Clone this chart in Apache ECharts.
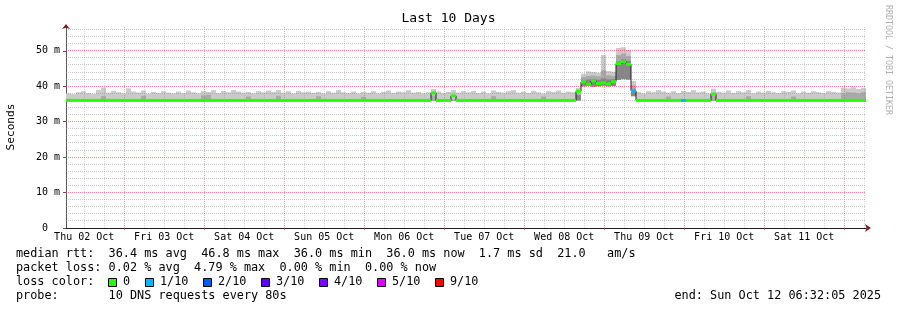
<!DOCTYPE html>
<html><head><meta charset="utf-8">
<script src="https://cdn.jsdelivr.net/npm/echarts@6/dist/echarts.min.js"></script>
<style>html,body{margin:0;padding:0;background:#fff}#c{width:897px;height:310px}</style>
</head><body><div id="c"></div>
<script>
// time axis in hours since Thu 02 Oct 00:00
const START_HOUR = 6 + 32/60 + 5/3600;
const SPAN_HOURS = 240;
const STEP_HOURS = 1.5;
const Y_MAX = 57;
const dayLabels = ['Thu 02 Oct','Fri 03 Oct','Sat 04 Oct','Sun 05 Oct','Mon 06 Oct','Tue 07 Oct','Wed 08 Oct','Thu 09 Oct','Fri 10 Oct','Sat 11 Oct'];
const dayLabelHours = [12,36,60,84,108,132,156,180,204,228];
const midnightHours = [24,48,72,96,120,144,168,192,216,240];
const minorHours = [12,18,30,36,42,54,60,66,78,84,90,102,108,114,126,132,138,150,156,162,174,180,186,198,204,210,222,228,234,246];
const yMajor = [0,10,20,30,40,50];
const yMinor = [2,4,6,8,12,14,16,18,22,24,26,28,32,34,36,38,42,44,46,48,52,54,56];

const median = [
 36.0,36.0,36.0,36.0,36.0,36.0,36.0,36.0,36.0,36.0,
 36.0,36.0,36.0,36.0,36.0,36.0,36.0,36.0,36.0,36.0,
 36.0,36.0,36.0,36.0,36.0,36.0,36.0,36.0,36.0,36.0,
 36.0,36.0,36.0,36.0,36.0,36.0,36.0,36.0,36.0,36.0,
 36.0,36.0,36.0,36.0,36.0,36.0,36.0,36.0,36.0,36.0,
 36.0,36.0,36.0,36.0,36.0,36.0,36.0,36.0,36.0,36.0,
 36.0,36.0,36.0,36.0,36.0,36.0,36.0,36.0,36.0,36.0,
 36.0,36.0,36.0,38.1,36.0,36.0,36.0,37.3,36.0,36.0,
 36.0,36.0,36.0,36.0,36.0,36.0,36.0,36.0,36.0,36.0,
 36.0,36.0,36.0,36.0,36.0,36.0,36.0,36.0,36.0,36.0,
 36.0,36.0,38.6,41.2,40.6,41.5,40.8,41.0,40.7,41.3,
 46.4,46.9,46.2,38.7,36.0,36.0,36.0,36.0,36.0,36.0,
 36.0,36.0,36.0,36.0,36.0,36.0,36.0,36.0,36.0,37.8,
 36.0,36.0,36.0,36.0,36.0,36.0,36.0,36.0,36.0,36.0,
 36.0,36.0,36.0,36.0,36.0,36.0,36.0,36.0,36.0,36.0,
 36.0,36.0,36.0,36.0,36.0,36.0,36.0,36.0,36.0,36.0];
const loss = [
 0,0,0,0,0,0,0,0,0,0, 0,0,0,0,0,0,0,0,0,0, 0,0,0,0,0,0,0,0,0,0, 0,0,0,0,0,0,0,0,0,0,
 0,0,0,0,0,0,0,0,0,0, 0,0,0,0,0,0,0,0,0,0, 0,0,0,0,0,0,0,0,0,0, 0,0,0,0,0,0,0,0,0,0,
 0,0,0,0,0,0,0,0,0,0, 0,0,0,0,0,0,0,0,0,0, 0,0,0,0,0,0,0,0,0,0, 0,0,0,1,0,0,0,0,0,0,
 0,0,0,1,0,0,0,0,0,0, 0,0,0,0,0,0,0,0,0,0, 0,0,0,0,0,0,0,0,0,0, 0,0,0,0,0,0,0,0,0,0];
const smokeLo = [
 35.9,35.9,35.9,35.9,35.9,35.9,35.9,35.9,35.9,35.9,
 35.9,35.9,35.9,35.9,35.9,35.9,35.9,35.9,35.9,35.9,
 35.9,35.9,35.9,35.9,35.9,35.9,35.9,35.9,35.9,35.9,
 35.9,35.9,35.9,35.9,35.9,35.9,35.9,35.9,35.9,35.9,
 35.9,35.9,35.9,35.9,35.9,35.9,35.9,35.9,35.9,35.9,
 35.9,35.9,35.9,35.9,35.9,35.9,35.9,35.9,35.9,35.9,
 35.9,35.9,35.9,35.9,35.9,35.9,35.9,35.9,35.9,35.9,
 35.9,35.9,35.9,35.9,35.9,35.9,35.9,35.9,35.9,35.9,
 35.9,35.9,35.9,35.9,35.9,35.9,35.9,35.9,35.9,35.9,
 35.9,35.9,35.9,35.9,35.9,35.9,35.9,35.9,35.9,35.9,
 35.9,35.9,36.0,40.0,40.1,39.9,40.0,40.2,40.0,40.1,
 41.8,42.0,41.9,37.2,35.9,35.9,35.9,35.9,35.9,35.9,
 35.9,35.9,35.9,35.9,35.9,35.9,35.9,35.9,35.9,35.9,
 35.9,35.9,35.9,35.9,35.9,35.9,35.9,35.9,35.9,35.9,
 35.9,35.9,35.9,35.9,35.9,35.9,35.9,35.9,35.9,35.9,
 35.9,35.9,35.9,35.9,35.9,35.9,35.9,35.9,35.9,35.9];
const smokeCore = [
 35.9,35.9,35.9,35.9,35.9,35.9,35.9,35.9,35.9,35.9,
 35.9,35.9,35.9,35.9,35.9,35.9,35.9,35.9,35.9,35.9,
 35.9,35.9,35.9,35.9,35.9,35.9,35.9,35.9,35.9,35.9,
 35.9,35.9,35.9,35.9,35.9,35.9,35.9,35.9,35.9,35.9,
 35.9,35.9,35.9,35.9,35.9,35.9,35.9,35.9,35.9,35.9,
 35.9,35.9,35.9,35.9,35.9,35.9,35.9,35.9,35.9,35.9,
 35.9,35.9,35.9,35.9,35.9,35.9,35.9,35.9,35.9,35.9,
 35.9,35.9,35.9,35.9,35.9,35.9,35.9,35.9,35.9,35.9,
 35.9,35.9,35.9,35.9,35.9,35.9,35.9,35.9,35.9,35.9,
 35.9,35.9,35.9,35.9,35.9,35.9,35.9,35.9,35.9,35.9,
 35.9,35.9,37.5,41.6,41.9,42.0,41.8,42.2,41.9,42.0,
 47.0,47.6,47.2,38.6,35.9,35.9,35.9,35.9,35.9,35.9,
 35.9,35.9,35.9,35.9,35.9,35.9,35.9,35.9,35.9,35.9,
 35.9,35.9,35.9,35.9,35.9,35.9,35.9,35.9,35.9,35.9,
 35.9,35.9,35.9,35.9,35.9,35.9,35.9,35.9,35.9,35.9,
 35.9,35.9,35.9,35.9,35.9,35.9,35.9,35.9,35.9,35.9];
const smokeMid = [
 36.3,36.3,36.4,36.3,36.3,36.4,36.3,37.2,36.3,36.4,
 36.3,36.3,36.4,36.3,36.3,37.3,36.3,36.4,36.3,36.3,
 36.4,36.3,36.3,36.4,36.3,36.3,36.4,37.4,37.6,36.3,
 36.3,36.4,36.3,36.3,36.4,36.3,37.1,36.3,36.4,36.3,
 36.3,36.4,37.3,36.3,36.3,36.4,36.3,36.3,36.4,36.3,
 37.2,36.3,36.4,36.3,36.3,36.4,36.3,36.3,36.4,37.0,
 36.3,36.4,36.3,36.3,36.4,36.3,36.3,36.4,36.3,36.3,
 36.4,36.3,36.3,37.4,36.3,36.4,36.3,36.3,36.4,36.3,
 36.3,36.4,36.3,36.3,36.4,37.2,36.3,36.3,36.4,36.3,
 36.3,36.4,36.3,36.3,36.4,37.1,36.3,36.3,36.4,36.3,
 36.4,36.3,37.8,42.6,42.9,43.0,42.8,44.5,43.1,42.9,
 48.8,49.2,48.5,40.2,36.4,36.3,36.3,36.4,36.3,36.3,
 37.1,36.3,36.4,36.3,36.3,36.4,36.3,36.3,36.4,37.3,
 36.3,36.4,36.3,36.3,36.4,36.3,37.2,36.3,36.4,36.3,
 36.3,36.4,36.3,36.3,36.4,37.1,36.3,36.3,36.4,36.3,
 36.3,36.4,36.3,36.3,36.4,38.0,38.3,38.2,38.0,38.3];
const smokeHi = [
 38.0,37.8,38.3,38.6,38.1,37.9,38.9,39.6,38.2,38.7,
 38.3,38.0,39.4,38.5,38.2,38.8,37.9,38.4,38.1,38.6,
 38.2,38.0,38.5,38.1,38.8,38.3,38.0,38.6,38.4,38.9,
 38.1,38.7,38.3,38.9,38.5,38.2,38.4,38.0,38.6,38.3,
 38.8,38.4,38.9,38.2,38.6,38.0,38.7,38.3,38.5,38.1,
 38.4,38.0,38.6,38.2,38.9,38.3,38.1,38.5,38.0,38.4,
 38.2,38.6,38.0,38.4,38.8,38.1,38.5,38.3,38.9,38.2,
 38.4,38.0,38.3,39.2,38.5,38.1,38.4,38.9,38.2,38.6,
 38.3,38.7,38.1,38.5,38.0,38.8,38.4,38.2,38.6,38.9,
 38.2,38.5,38.1,38.7,38.3,38.0,38.6,38.4,38.8,38.2,
 38.5,38.3,39.5,43.5,44.2,44.0,43.8,48.8,44.3,44.1,
 50.8,51.0,50.2,41.5,38.4,38.0,38.6,38.3,38.9,38.5,
 38.2,38.6,38.1,38.7,38.4,38.9,38.3,38.5,38.0,39.3,
 38.4,38.2,38.8,38.1,38.6,38.3,38.9,38.0,38.5,38.2,
 38.7,38.3,38.1,38.6,38.4,38.8,38.0,38.5,38.2,38.6,
 38.3,38.1,38.6,38.4,38.2,39.6,39.4,39.7,39.2,39.5];

const lossLabels = ['0','1/10','2/10','3/10','4/10','5/10','9/10'];
const lossColors = ['#26ff00','#00b8ff','#0059ff','#5e00ff','#7e00ff','#dd00ff','#ff0000'];
const statsLine1 = 'median rtt:  36.4 ms avg  46.8 ms max  36.0 ms min  36.0 ms now  1.7 ms sd  21.0   am/s';
const statsLine2 = 'packet loss: 0.02 % avg  4.79 % max  0.00 % min  0.00 % now';
const probeLine = 'probe:       10 DNS requests every 80s';
const endLine = 'end: Sun Oct 12 06:32:05 2025';

const MONO = '"DejaVu Sans Mono", "Liberation Mono", monospace';
const H_MAJOR_COLOR = 'rgba(235,80,80,0.7)';
const H_MINOR_COLOR = 'rgba(143,143,143,0.5)';
const V_MAJOR_COLOR = 'rgba(235,80,80,0.5)';
const V_MINOR_COLOR = 'rgba(143,143,143,0.35)';
const t0 = i => START_HOUR + i * STEP_HOURS;
const smokeData = median.map((_, i) => [t0(i), t0(i + 1), smokeLo[i], smokeCore[i], smokeMid[i], smokeHi[i]]);
const lossData = median.map((m, i) => [t0(i), t0(i + 1), m, loss[i]]);
const medianLine = median.map((m, i) => [t0(i), m]);
medianLine.push([t0(median.length), median[median.length - 1]]);
const vGridData = midnightHours.map(h => [h, 0, 1]).concat(minorHours.map(h => [h, 0, 0]));
const hGridData = yMajor.filter(v => v > 0).map(v => [START_HOUR, v, 1]).concat(yMinor.map(v => [START_HOUR, v, 0]));

function band(api, a0, a1, v0, v1, color) {
  const p = api.coord([a0, v1]), q = api.coord([a1, v0]);
  return {type: 'rect', shape: {x: p[0], y: p[1], width: q[0] - p[0], height: q[1] - p[1]}, style: {fill: color}};
}

const chart = echarts.init(document.getElementById('c'), null, {renderer: 'canvas'});

const graphics = [
  {type: 'text', x: 16, y: 254, style: {text: statsLine1, fontFamily: MONO, fontSize: 11.83, fill: '#000', verticalAlign: 'middle'}},
  {type: 'text', x: 16, y: 268, style: {text: statsLine2, fontFamily: MONO, fontSize: 11.83, fill: '#000', verticalAlign: 'middle'}},
  {type: 'text', x: 16, y: 282, style: {text: 'loss color:', fontFamily: MONO, fontSize: 11.83, fill: '#000', verticalAlign: 'middle'}},
  {type: 'text', x: 16, y: 296, style: {text: probeLine, fontFamily: MONO, fontSize: 11.83, fill: '#000', verticalAlign: 'middle'}},
  {type: 'text', x: 881, y: 296, style: {text: endLine, fontFamily: MONO, fontSize: 11.83, fill: '#000', align: 'right', verticalAlign: 'middle'}},
  {type: 'text', x: 888, y: 5, rotation: -Math.PI / 2, style: {text: 'RRDTOOL / TOBI OETIKER', fontFamily: MONO, fontSize: 8.3, fill: '#b0b0b0', align: 'left', verticalAlign: 'middle'}}
];
const boxX = [108.5, 145.5, 203.5, 261.5, 319.5, 377.5, 435.5];
lossLabels.forEach((lab, k) => {
  graphics.push({type: 'rect', shape: {x: boxX[k], y: 278.5, width: 8, height: 8}, style: {fill: lossColors[k], stroke: '#000', lineWidth: 1}});
  graphics.push({type: 'text', x: boxX[k] + 14.5, y: 282, style: {text: lab, fontFamily: MONO, fontSize: 11.83, fill: '#000', verticalAlign: 'middle'}});
});

chart.setOption({
  animation: false,
  backgroundColor: '#fff',
  title: {text: 'Last 10 Days', left: 'center', top: 12, padding: 0,
    textStyle: {fontFamily: MONO, fontSize: 13, fontWeight: 'normal', color: '#000'}},
  grid: {left: 66, right: 31, top: 26, bottom: 82, containLabel: false, outerBoundsMode: 'none'},
  xAxis: [{
    type: 'value', position: 'bottom', min: START_HOUR, max: START_HOUR + SPAN_HOURS,
    axisLine: {show: true, lineStyle: {color: '#1f1f1f', width: 1}},
    axisTick: {show: true, customValues: midnightHours, length: 2, lineStyle: {color: 'rgba(222,79,79,0.8)'}},
    axisLabel: {show: true, customValues: dayLabelHours, margin: 4, fontFamily: MONO, fontSize: 10, color: '#000',
      formatter: v => dayLabels[Math.round((v - 12) / 24)] || ''},
    splitLine: {show: false}
  }, {
    type: 'value', position: 'bottom', min: START_HOUR, max: START_HOUR + SPAN_HOURS,
    axisLine: {show: true, symbol: ['none', 'arrow'], symbolSize: [6, 6], symbolOffset: [0, 5], lineStyle: {color: '#7f1f1f', width: 0}},
    axisTick: {show: false},
    axisLabel: {show: false},
    splitLine: {show: false}
  }],
  yAxis: [{
    type: 'value', position: 'left', min: 0, max: Y_MAX,
    name: 'Seconds', nameLocation: 'middle', nameGap: 49, nameRotate: 90,
    nameTextStyle: {fontFamily: MONO, fontSize: 11.2, color: '#000'},
    axisLine: {show: true, lineStyle: {color: '#555', width: 1}},
    axisTick: {show: true, customValues: yMajor, length: 3, lineStyle: {color: '#555'}},
    axisLabel: {show: true, customValues: yMajor, margin: 6, fontFamily: MONO, fontSize: 10, color: '#000',
      formatter: v => v === 0 ? '0  ' : v + ' m'},
    splitLine: {show: false}
  }, {
    type: 'value', position: 'left', min: 0, max: Y_MAX,
    axisLine: {show: true, symbol: ['none', 'arrow'], symbolSize: [6, 5], symbolOffset: [0, 2], lineStyle: {color: '#7f1f1f', width: 0}},
    axisTick: {show: false},
    axisLabel: {show: false},
    splitLine: {show: false}
  }],
  series: [{
    type: 'custom', name: 'smoke', xAxisIndex: 0, yAxisIndex: 0, clip: true, z: 1,
    data: smokeData, encode: {x: [0, 1], y: [2, 5]},
    renderItem: (params, api) => {
      const a0 = api.value(0), a1 = api.value(1);
      return {type: 'group', children: [
        band(api, a0, a1, api.value(2), api.value(5), '#cacaca'),
        band(api, a0, a1, api.value(2), api.value(4), '#a9a9a9'),
        band(api, a0, a1, api.value(2), api.value(3), '#868686')
      ]};
    }
  }, {
    type: 'custom', name: 'vgrid', xAxisIndex: 0, yAxisIndex: 0, clip: false, silent: true, z: 2,
    data: vGridData, encode: {x: 0, y: 1},
    renderItem: (params, api) => {
      const h = api.value(0);
      const p = api.coord([h, 0]), q = api.coord([h, Y_MAX]);
      const x = Math.floor(p[0]) + 0.5;
      return {type: 'line', shape: {x1: x, y1: Math.round(p[1]), x2: x, y2: Math.round(q[1])},
        style: {stroke: api.value(2) ? V_MAJOR_COLOR : V_MINOR_COLOR, lineWidth: 1, lineDash: [1, 1]}};
    }
  }, {
    type: 'custom', name: 'hgrid', xAxisIndex: 0, yAxisIndex: 0, clip: false, silent: true, z: 2,
    data: hGridData, encode: {x: 0, y: 1},
    renderItem: (params, api) => {
      const v = api.value(1);
      const p = api.coord([START_HOUR, v]), q = api.coord([START_HOUR + SPAN_HOURS, v]);
      const y = Math.floor(p[1]) + 0.5;
      return {type: 'line', shape: {x1: p[0], y1: y, x2: q[0], y2: y},
        style: {stroke: api.value(2) ? H_MAJOR_COLOR : H_MINOR_COLOR, lineWidth: 1, lineDash: [1, 1]}};
    }
  }, {
    type: 'line', name: 'median', xAxisIndex: 0, yAxisIndex: 0, data: medianLine, step: 'end', z: 3,
    showSymbol: false, symbol: 'none', lineStyle: {color: '#202020', width: 1}
  }, {
    type: 'custom', name: 'loss', xAxisIndex: 0, yAxisIndex: 0, clip: true, z: 4,
    data: lossData, encode: {x: [0, 1], y: 2},
    renderItem: (params, api) => {
      const a = api.coord([api.value(0), api.value(2)]), b = api.coord([api.value(1), api.value(2)]);
      return {type: 'rect', shape: {x: a[0], y: a[1] - 1.5, width: b[0] - a[0], height: 3}, style: {fill: lossColors[api.value(3)]}};
    }
  }],
  graphic: graphics
});
</script></body></html>
